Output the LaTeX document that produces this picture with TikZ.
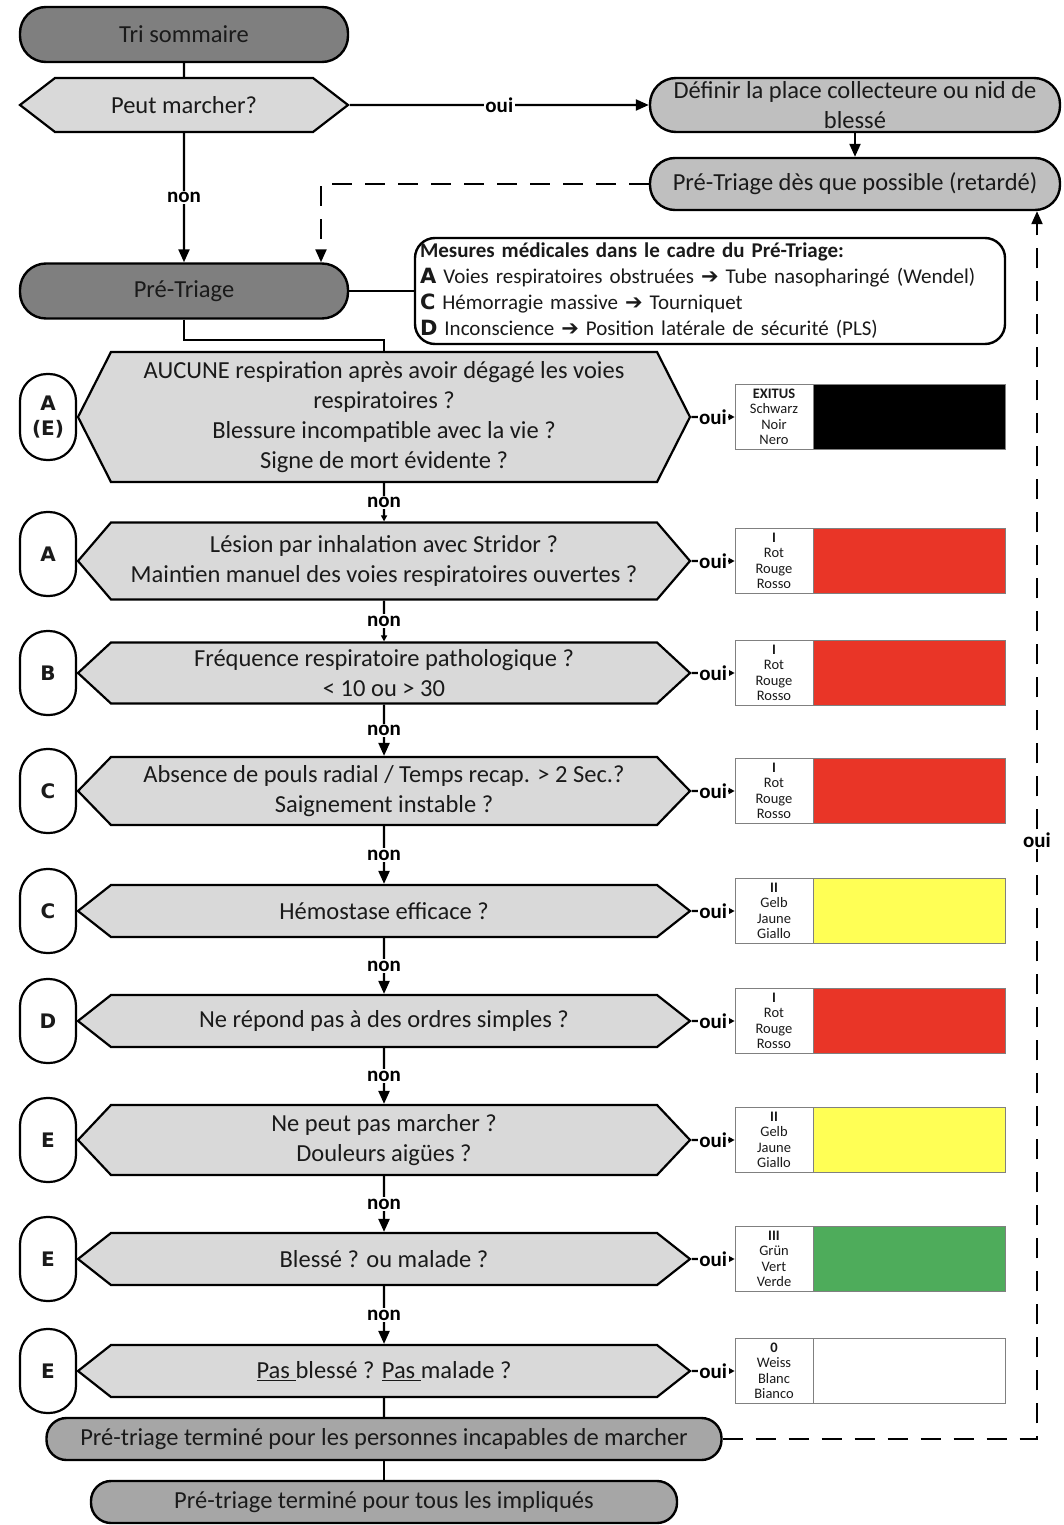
\documentclass[tikz,border=0pt]{standalone}
\usepackage{fontspec}
\setmainfont{Carlito}
\newfontfamily\blackfont{DejaVu Sans}
\usepackage{tikz}
\usetikzlibrary{positioning, arrows.meta, shapes.symbols}

\definecolor{ink}{HTML}{1A1A1A}
\definecolor{dgray}{HTML}{7F7F7F}
\definecolor{mgray}{HTML}{BFBFBF}
\definecolor{egray}{HTML}{A6A6A6}
\definecolor{qgray}{HTML}{D9D9D9}
\definecolor{tred}{HTML}{E93527}
\definecolor{tyellow}{HTML}{FFFF55}
\definecolor{tgreen}{HTML}{4EAC5B}

\newcommand{\catdead}{\textbf{EXITUS}\\Schwarz\\Noir\\Nero}
\newcommand{\catred}{\textbf{I}\\Rot\\Rouge\\Rosso}
\newcommand{\catyellow}{\textbf{II}\\Gelb\\Jaune\\Giallo}
\newcommand{\catgreen}{\textbf{III}\\Grün\\Vert\\Verde}
\newcommand{\catwhite}{\textbf{0}\\Weiss\\Blanc\\Bianco}
\newcommand{\arr}{{\blackfont\bfseries ➔}}

\tikzset{
  base/.style={text=ink, font=\fontsize{24.5}{30}\selectfont, align=center, inner sep=0pt},
  term/.style={base, draw, line width=2.4pt},
  quest/.style={base, draw, line width=2.2pt, fill=qgray, signal, signal to=west and east, minimum width=612pt},
  abc/.style={draw, line width=2.2pt, fill=white, rounded corners=27pt, minimum width=56pt, minimum height=84pt, inner sep=0pt, align=center, text=ink, font=\blackfont\bfseries\fontsize{20}{25}\selectfont},
  tag/.style={draw=gray, line width=0.7pt, fill=white, minimum width=78pt, minimum height=65pt, inner sep=0pt, align=center, text=ink, font=\fontsize{14.5}{15.5}\selectfont},
  swatch/.style={draw=gray, line width=0.7pt, fill=#1, minimum width=192pt, minimum height=65pt},
  lab/.style={fill=white, inner sep=1.5pt, text=black, font=\bfseries\fontsize{21}{21}\selectfont},
  dline/.style={dash pattern=on 20pt off 13pt},
  big/.style={-{Triangle[length=13pt, width=11pt]}},
  small/.style={-{Triangle[length=6pt, width=6pt]}}
}

\begin{document}
\begin{tikzpicture}
	[x=1pt, y=-1pt, on grid, node distance=100pt, line width=2.2pt]
   \useasboundingbox (0,0) rectangle (1063,1525);
   % walking or not
   \node[term, fill=dgray, rounded corners=26pt, minimum width=328pt, minimum height=55pt] (tri) at (184,34.5) {Tri sommaire};
   \node[quest, signal pointer angle=75.3, minimum width=328pt, minimum height=54pt] (walk) [below=70.5pt of tri] {Peut marcher?};
   \node[term, fill=mgray, rounded corners=26pt, minimum width=410pt, minimum height=54pt, inner ysep=-3pt] (place) [right=671pt of walk] {Définir la place collecteure ou nid de\\blessé};
   \node[term, fill=mgray, rounded corners=25pt, minimum width=410pt, minimum height=52pt] (later) [below=79pt of place] {Pré-Triage dès que possible (retardé)};
   \node[term, fill=dgray, rounded corners=26pt, minimum width=328pt, minimum height=55pt] (pre) [below=186pt of walk] {Pré-Triage};
   \node[draw, fill=white, line width=2.4pt, rounded corners=20pt, minimum width=590pt, minimum height=106pt, text width=580pt, inner sep=0pt, align=left, text=ink, font=\fontsize{21}{26}\selectfont] (mes) [right=526pt of pre]
    {\textbf{Mesures médicales dans le cadre du Pré-Triage:}\\
     {\blackfont\bfseries A} Voies respiratoires obstruées \arr{} Tube nasopharingé (Wendel)\\
     {\blackfont\bfseries C} Hémorragie massive \arr{} Tourniquet\\
     {\blackfont\bfseries D} Inconscience \arr{} Position latérale de sécurité (PLS)};

   % questions
   \node[quest, signal pointer angle=126.2, minimum height=130pt] (q_1) [below right=126pt and 200pt of pre] {AUCUNE respiration après avoir dégagé les voies\\respiratoires ?\\Blessure incompatible avec la vie ?\\Signe de mort évidente ?};
   \node[quest, signal pointer angle=98.8, minimum height=77pt] (q_2) [below=144pt of q_1] {Lésion par inhalation avec Stridor ?\\Maintien manuel des voies respiratoires ouvertes ?};
   \node[quest, signal pointer angle=85.5, minimum height=61pt] (q_3) [below=112pt of q_2] {Fréquence respiratoire pathologique ?\\< 10 ou > 30};
   \node[quest, signal pointer angle=91.7, minimum height=68pt] (q_4) [below=118pt of q_3] {Absence de pouls radial / Temps recap. > 2 Sec.?\\Saignement instable ?};
   \node[quest, signal pointer angle=76.5, minimum height=52pt] (q_5) [below=120pt of q_4] {Hémostase efficace ?};
   \node[quest, signal pointer angle=76.5, minimum height=52pt] (q_6) [below=110pt of q_5] {Ne répond pas à des ordres simples ?};
   \node[quest, signal pointer angle=93.4, minimum height=70pt] (q_7) [below=119pt of q_6] {Ne peut pas marcher ?\\Douleurs aigües ?};
   \node[quest, signal pointer angle=76.5, minimum height=52pt] (q_8) [below=119pt of q_7] {Blessé ? ou malade ?};
   \node[quest, signal pointer angle=76.5, minimum height=52pt] (q_9) [below=112pt of q_8] {\underline{Pas }blessé ? \underline{Pas }malade ?};
   \node[term, fill=egray, rounded corners=20pt, minimum width=675pt, minimum height=42pt] (end_1) [below=68pt of q_9] {Pré-triage terminé pour les personnes incapables de marcher};
   \node[term, fill=egray, rounded corners=20pt, minimum width=586pt, minimum height=42pt] (end_2) [below=63pt of end_1] {Pré-triage terminé pour tous les impliqués};

   % letters
   \node[abc, minimum height=86pt] (l_1) [left=336pt of q_1] {A\\(E)};
   \node[abc] (l_2) [left=336pt of q_2, yshift=7pt] {A};
   \node[abc] (l_3) [left=336pt of q_3] {B};
   \node[abc] (l_4) [left=336pt of q_4] {C};
   \node[abc] (l_5) [left=336pt of q_5] {C};
   \node[abc] (l_6) [left=336pt of q_6] {D};
   \node[abc] (l_7) [left=336pt of q_7] {E};
   \node[abc] (l_8) [left=336pt of q_8] {E};
   \node[abc] (l_9) [left=336pt of q_9] {E};

   % categories
   \node[tag] (t_1) [right=390pt of q_1] {\catdead};
   \node[tag] (t_2) [right=390pt of q_2] {\catred};
   \node[tag] (t_3) [right=390pt of q_3] {\catred};
   \node[tag] (t_4) [right=390pt of q_4] {\catred};
   \node[tag] (t_5) [right=390pt of q_5] {\catyellow};
   \node[tag] (t_6) [right=390pt of q_6] {\catred};
   \node[tag] (t_7) [right=390pt of q_7] {\catyellow};
   \node[tag] (t_8) [right=390pt of q_8] {\catgreen};
   \node[tag] (t_9) [right=390pt of q_9] {\catwhite};
   \node[swatch=black] (c_1) [right=135pt of t_1] {};
   \node[swatch=tred] (c_2) [right=135pt of t_2] {};
   \node[swatch=tred] (c_3) [right=135pt of t_3] {};
   \node[swatch=tred] (c_4) [right=135pt of t_4] {};
   \node[swatch=tyellow] (c_5) [right=135pt of t_5] {};
   \node[swatch=tred] (c_6) [right=135pt of t_6] {};
   \node[swatch=tyellow] (c_7) [right=135pt of t_7] {};
   \node[swatch=tgreen] (c_8) [right=135pt of t_8] {};
   \node[swatch=white] (c_9) [right=135pt of t_9] {};

       \path
    (tri) edge (walk)
    (walk) edge[big] node[lab] {non} (pre)
          edge[big] node[lab] {oui} (place)
    (place) edge[big] (later)
    (pre) edge (mes)
    (q_1) edge[small] node[lab] {non} (q_2)
    (q_2) edge[small] node[lab] {non} (q_3)
    (q_3) edge[big] node[lab] {non} (q_4)
    (q_4) edge[big] node[lab] {non} (q_5)
    (q_5) edge[big] node[lab] {non} (q_6)
    (q_6) edge[big] node[lab] {non} (q_7)
    (q_7) edge[big] node[lab] {non} (q_8)
    (q_8) edge[big] node[lab] {non} (q_9)
    (q_9) edge (end_1)
    (end_1) edge (end_2);

       \path[small]
    (q_1) edge node[lab] {oui} (t_1)
    (q_2) edge node[lab] {oui} (t_2)
    (q_3) edge node[lab] {oui} (t_3)
    (q_4) edge node[lab] {oui} (t_4)
    (q_5) edge node[lab] {oui} (t_5)
    (q_6) edge node[lab] {oui} (t_6)
    (q_7) edge node[lab] {oui} (t_7)
    (q_8) edge node[lab] {oui} (t_8)
    (q_9) edge node[lab] {oui} (t_9);

   \draw (pre.south) -- ++(0,20) -| (q_1.north);
   \draw[dline, big] (later.west) -| ([xshift=137pt]pre.north);
   \draw[dline, big] (end_1.east) -| node[lab, pos=.744] {oui} ([xshift=182pt]later.south);
   
\end{tikzpicture}
\end{document}
